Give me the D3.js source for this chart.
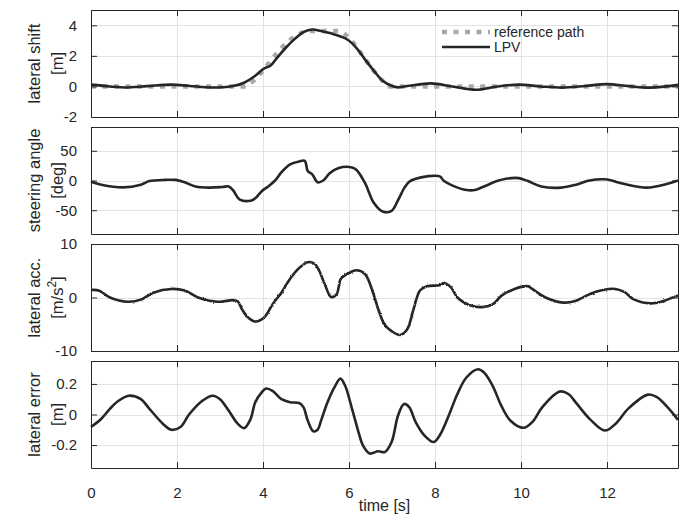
<!DOCTYPE html>
<html><head><meta charset="utf-8">
<script src="https://cdn.jsdelivr.net/npm/d3@7"></script>
<style>
html,body{margin:0;padding:0;background:#fff;}
text{font-family:"Liberation Sans",Arial,Helvetica,sans-serif;fill:#262626;}
</style></head>
<body><svg id="chart" width="687" height="514"></svg>
<script>
// ---------- data ----------
const timeTicks = [0, 2, 4, 6, 8, 10, 12];
const timeDomain = [0, 13.65];

const refT = [0, 3.56, 3.82, 4.02, 4.33, 4.64, 4.94, 5.06, 5.76, 5.96, 6.27, 6.58, 6.78, 6.94, 13.65];
const refV = [0, 0, 0.48, 1.12, 2.2, 3.07, 3.55, 3.62, 3.62, 3.28, 2.2, 1.0, 0.37, 0, 0];

const shiftT = [0, 0.44, 0.8, 1.3, 1.87, 2.3, 2.8, 3.3, 3.56, 3.82, 4.02, 4.17, 4.33, 4.53, 4.74, 4.94, 5.15, 5.35, 5.66, 5.96, 6.17, 6.37, 6.58, 6.78, 6.99, 7.14, 7.4, 7.91, 8.4, 8.95, 9.45, 9.95, 10.45, 10.95, 11.5, 12.0, 12.5, 13.0, 13.65];
const shiftV = [0.12, 0.0, -0.07, 0.02, 0.12, 0.03, -0.07, 0.03, 0.24, 0.7, 1.17, 1.35, 1.88, 2.53, 3.11, 3.55, 3.72, 3.62, 3.4, 3.07, 2.53, 1.77, 1.02, 0.37, 0.04, -0.06, 0.04, 0.2, 0.0, -0.22, 0.0, 0.12, 0.0, -0.08, 0.03, 0.15, 0.02, -0.08, 0.1];

const steerT = [0, 0.24, 0.75, 1.16, 1.36, 1.72, 1.97, 2.18, 2.43, 2.74, 3.05, 3.2, 3.3, 3.46, 3.71, 3.82, 3.97, 4.12, 4.28, 4.43, 4.63, 4.84, 4.97, 5.04, 5.15, 5.27, 5.4, 5.55, 5.76, 6.07, 6.17, 6.37, 6.58, 6.78, 6.99, 7.14, 7.29, 7.4, 7.55, 7.81, 8.11, 8.21, 8.42, 8.73, 8.93, 9.14, 9.44, 9.65, 9.95, 10.16, 10.47, 10.93, 11.28, 11.59, 11.95, 12.41, 12.92, 13.43, 13.65];
const steerV = [-2, -7, -11.5, -7, -1, 1, 1, -3, -10, -12, -11, -10, -16, -32, -34, -30, -18, -10, 0, 14, 27, 32, 33, 16, 10, -3, 0, 12, 21, 22, 18, -4, -38, -52, -51, -33, -12, -2, 3, 7, 7, -1, -9, -16, -16, -10, -1, 3, 4, -1, -10, -12, -7, 0, 2, -6, -12, -5, 0];

const accT = [0, 0.18, 0.44, 0.85, 1.16, 1.46, 1.87, 2.18, 2.49, 2.95, 3.3, 3.41, 3.51, 3.66, 3.82, 4.02, 4.22, 4.43, 4.63, 4.84, 5.04, 5.2, 5.3, 5.45, 5.58, 5.71, 5.81, 5.96, 6.17, 6.37, 6.53, 6.68, 6.83, 6.99, 7.19, 7.35, 7.5, 7.65, 7.81, 8.11, 8.21, 8.37, 8.52, 8.83, 9.08, 9.34, 9.54, 9.85, 10.16, 10.26, 10.57, 10.98, 11.28, 11.59, 11.9, 12.2, 12.41, 12.61, 13.02, 13.33, 13.65];
const accV = [1.4, 1.3, 0, -0.8, -0.4, 0.95, 1.6, 1.3, 0, -0.8, -0.5, -0.7, -2.2, -3.8, -4.5, -3.8, -1.3, 0.95, 3.5, 5.5, 6.6, 6.3, 5.1, 2.2, 0.1, 0.6, 3.5, 4.4, 5.1, 4.4, 1.6, -2.2, -5.1, -6.3, -7.0, -6.0, -2.2, 1.3, 2.1, 2.3, 2.7, 1.9, 0, -1.5, -1.8, -1.3, 0.3, 1.6, 2.1, 1.6, 0, -0.95, -0.6, 0.6, 1.4, 1.6, 1.0, -0.3, -1.1, -0.6, 0.4];

const errT = [0, 0.24, 0.44, 0.64, 0.88, 1.16, 1.36, 1.67, 1.87, 2.08, 2.28, 2.59, 2.83, 3.0, 3.2, 3.41, 3.56, 3.71, 3.82, 3.97, 4.07, 4.22, 4.43, 4.63, 4.84, 4.94, 5.04, 5.17, 5.27, 5.35, 5.5, 5.66, 5.8, 5.91, 6.07, 6.22, 6.32, 6.48, 6.68, 6.83, 6.99, 7.14, 7.28, 7.4, 7.55, 7.75, 7.97, 8.11, 8.32, 8.52, 8.73, 9.0, 9.14, 9.34, 9.54, 9.75, 10.06, 10.26, 10.5, 10.9, 11.1, 11.3, 11.6, 11.95, 12.2, 12.5, 12.95, 13.15, 13.4, 13.65];
const errV = [-0.082, -0.028, 0.037, 0.09, 0.123, 0.1, 0.037, -0.06, -0.1, -0.082, 0, 0.09, 0.123, 0.1, 0.026, -0.06, -0.089, -0.03, 0.08, 0.145, 0.17, 0.155, 0.1, 0.08, 0.075, 0.048, -0.039, -0.11, -0.1, -0.04, 0.08, 0.177, 0.235, 0.188, 0.037, -0.115, -0.2, -0.255, -0.24, -0.246, -0.18, -0.006, 0.069, 0.048, -0.05, -0.136, -0.18, -0.136, -0.006, 0.134, 0.242, 0.296, 0.275, 0.188, 0.058, -0.039, -0.087, -0.05, 0.05, 0.15, 0.134, 0.069, -0.03, -0.105, -0.06, 0.04, 0.13, 0.115, 0.05, -0.035];

const yLabels = [["lateral shift", "[m]"], ["steering angle", "[deg]"], ["lateral acc.", "[m/s^2]"], ["lateral error", "[m]"]];
const yDomains = [[-2, 5], [-90, 90], [-10, 10], [-0.35, 0.35]];
const yTicks = [[-2, 0, 2, 4], [-50, 0, 50], [-10, 0, 10], [-0.2, 0, 0.2]];
const legendLabels = ["reference path", "LPV"];
const xLabel = "time [s]";

// ---------- layout ----------
const svg = d3.select("#chart");
const left = 91, right = 678;
const panelTops = [10, 127, 244, 361];
const panelH = 107;
const ink = "#262626", gridC = "#e3e3e3", refC = "#a9a9a9";

const x = d3.scaleLinear().domain(timeDomain).range([left, right]);

const defs = svg.append("defs");
const f = defs.append("filter").attr("id", "jit").attr("x", "-5%").attr("y", "-20%").attr("width", "110%").attr("height", "140%");
f.append("feTurbulence").attr("type", "fractalNoise").attr("baseFrequency", "0.9").attr("numOctaves", 1).attr("seed", 3).attr("result", "n");
f.append("feDisplacementMap").attr("in", "SourceGraphic").attr("in2", "n").attr("scale", 2.5).attr("xChannelSelector", "R").attr("yChannelSelector", "G");

const seriesByPanel = [
  [{t: refT, v: refV, ref: true}, {t: shiftT, v: shiftV}],
  [{t: steerT, v: steerV}],
  [{t: accT, v: accV, noisy: true}],
  [{t: errT, v: errV}]
];

const fmt = d => String(d);

panelTops.forEach((top, i) => {
  const bottom = top + panelH;
  const y = d3.scaleLinear().domain(yDomains[i]).range([bottom, top]);
  const g = svg.append("g");

  // grid
  g.append("g").selectAll("line").data(timeTicks).join("line")
    .attr("x1", d => Math.round(x(d)) + 0.5).attr("x2", d => Math.round(x(d)) + 0.5)
    .attr("y1", top).attr("y2", bottom).attr("stroke", gridC).attr("stroke-width", 1);
  g.append("g").selectAll("line").data(yTicks[i]).join("line")
    .attr("x1", left).attr("x2", right)
    .attr("y1", d => Math.round(y(d)) + 0.5).attr("y2", d => Math.round(y(d)) + 0.5)
    .attr("stroke", gridC).attr("stroke-width", 1);

  // lines
  seriesByPanel[i].forEach(s => {
    const pts = s.t.map((t, k) => [t, s.v[k]]);
    const line = d3.line().x(d => x(d[0])).y(d => y(d[1]))
      .curve(s.ref ? d3.curveMonotoneX : d3.curveCatmullRom.alpha(0.5));
    const p = g.append("path").datum(pts).attr("d", line).attr("fill", "none");
    if (s.ref) {
      p.attr("stroke", refC).attr("stroke-width", 4.5).attr("stroke-dasharray", "5,6.5");
    } else {
      p.attr("stroke", ink).attr("stroke-width", 2.6).attr("stroke-linejoin", "round");
      if (s.noisy) p.attr("filter", "url(#jit)");
    }
  });

  // axes (inward ticks, box)
  const yl = d3.axisLeft(y).tickValues(yTicks[i]).tickSizeInner(-6).tickSizeOuter(0).tickPadding(14).tickFormat(fmt);
  const yr = d3.axisRight(y).tickValues(yTicks[i]).tickSizeInner(-6).tickSizeOuter(0).tickFormat("");
  const xt = d3.axisTop(x).tickValues(timeTicks).tickSizeInner(-6).tickSizeOuter(0).tickFormat("");
  const xb = d3.axisBottom(x).tickValues(timeTicks).tickSizeInner(-6).tickSizeOuter(0).tickPadding(19)
    .tickFormat(i === 3 ? fmt : "");
  const axes = [
    g.append("g").attr("transform", `translate(${left},0)`).call(yl),
    g.append("g").attr("transform", `translate(${right},0)`).call(yr),
    g.append("g").attr("transform", `translate(0,${top})`).call(xt),
    g.append("g").attr("transform", `translate(0,${bottom})`).call(xb)
  ];
  axes.forEach(a => {
    a.selectAll("path.domain").attr("stroke", ink).attr("stroke-width", 1);
    a.selectAll(".tick line").attr("stroke", ink).attr("stroke-width", 1);
    a.selectAll("text").attr("fill", ink).style("font-size", "15px").style("font-family", '"Liberation Sans",Arial,sans-serif');
  });

  // y label (two lines, rotated)
  const cy = top + panelH / 2;
  const lab = g.append("text").attr("transform", `translate(0,${cy}) rotate(-90)`)
    .attr("text-anchor", "middle").style("font-size", "16.5px");
  lab.append("tspan").attr("x", 0).attr("y", 40).text(yLabels[i][0]);
  const l2 = yLabels[i][1];
  if (l2.includes("^")) {
    const [a, b] = l2.split("^");
    const t2 = lab.append("tspan").attr("x", 0).attr("y", 63);
    t2.append("tspan").text(a);
    t2.append("tspan").attr("dy", -7).style("font-size", "12px").text(b.replace("]", ""));
    t2.append("tspan").attr("dy", 7).text("]");
  } else {
    lab.append("tspan").attr("x", 0).attr("y", 63).text(l2);
  }
});

// x label
svg.append("text").attr("x", (left + right) / 2).attr("y", 511).attr("text-anchor", "middle")
  .style("font-size", "16px").text(xLabel);

// legend
const lg = svg.append("g");
const legY = [32, 47];
lg.append("line").attr("x1", 442).attr("x2", 490).attr("y1", legY[0]).attr("y2", legY[0])
  .attr("stroke", refC).attr("stroke-width", 4.5).attr("stroke-dasharray", "5,6.5");
lg.append("line").attr("x1", 442).attr("x2", 490).attr("y1", legY[1]).attr("y2", legY[1])
  .attr("stroke", ink).attr("stroke-width", 2.6);
legendLabels.forEach((l, k) => {
  lg.append("text").attr("x", 494).attr("y", legY[k]).attr("dy", "0.36em").style("font-size", "14px").text(l);
});
</script></body></html>
